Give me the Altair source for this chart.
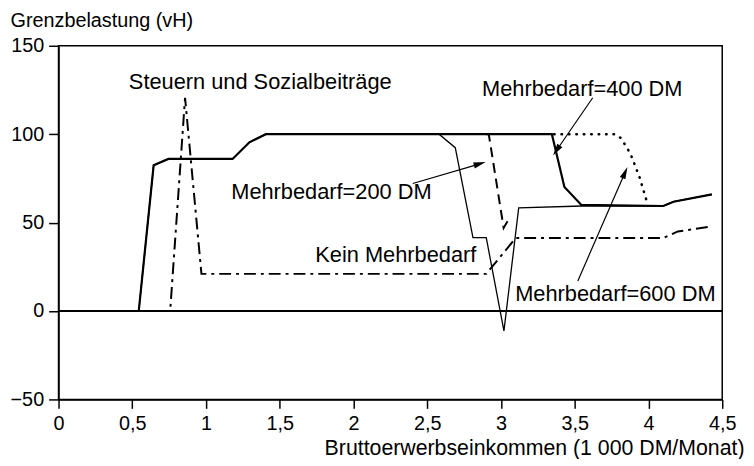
import math
import altair as alt
import pandas as pd

# ---- data ----
x_kein = [0, 0.544, 0.645, 0.745, 1.18, 1.294, 1.406, 2.58, 2.69, 2.81, 2.90, 3.02, 3.12, 3.55, 4.10, 4.17, 4.43]
y_kein = [0, 0, 82.4, 86, 86, 95.4, 100, 100, 92.4, 41.5, 41.5, -11.2, 58.3, 59.4, 59.4, 61.8, 66]

x_400 = [0, 0.544, 0.645, 0.745, 1.18, 1.294, 1.406, 3.345, 3.43, 3.545, 4.10, 4.17, 4.43]
y_400 = [0, 0, 82.4, 86, 86, 95.4, 100, 100, 70.2, 60, 59.4, 61.8, 66]

x_200 = [2.90, 2.917, 3.018, 3.05]
y_200 = [100, 100, 47, 51.5]

x_600 = [3.36, 3.77, 3.81, 3.85, 3.88, 3.91, 3.94, 3.985]
y_600 = [100, 100, 98, 93, 88.5, 82, 75.5, 63]

x_st = [0, 0.757, 0.858, 0.969, 2.90, 3.10, 4.10, 4.20, 4.43]
y_st = [0, 0, 120.6, 21, 21, 41.3, 41.3, 45, 47.8]

ann_text = ["Steuern und Sozialbeiträge", "Mehrbedarf=400 DM", "Mehrbedarf=200 DM",
            "Kein Mehrbedarf", "Mehrbedarf=600 DM"]
ann_x = [0.477, 2.872, 1.171, 1.741, 3.096]
ann_y = [125.3, 121.6, 63.1, 27.6, 5.8]

arr_x0 = [2.402, 3.622, 3.521]
arr_y0 = [72.1, 120.6, 17.0]
arr_x1 = [2.895, 3.353, 3.857]
arr_y1 = [84.2, 88.0, 81.4]

x_ticks = [0, 0.5, 1, 1.5, 2, 2.5, 3, 3.5, 4, 4.5]
y_ticks = [-50, 0, 50, 100, 150]

W, H = 670, 357
XD = [0, 4.5]
YD = [-50, 150]
FONT = "Liberation Sans"

xs = alt.Scale(domain=XD, nice=False, zero=False)
ys = alt.Scale(domain=YD, nice=False, zero=False)

def series_df(xv, yv):
    return pd.DataFrame({"x": xv, "y": yv, "o": list(range(len(xv)))})

x_enc = alt.X("x:Q", scale=xs,
              axis=alt.Axis(values=x_ticks, labelExpr="replace(toString(datum.value), '.', ',')",
                            title="Bruttoerwerbseinkommen (1 000 DM/Monat)",
                            titleAlign="right", titleAnchor="end", titleBaseline="alphabetic",
                            titleX=692, titleY=56, titleFontSize=21.5, tickSize=9, labelPadding=5,
                            labelFlush=False, labelOverlap=False))
y_enc = alt.Y("y:Q", scale=ys,
              axis=alt.Axis(values=y_ticks, title="Grenzbelastung (vH)", titleAngle=0,
                            titleAlign="left", titleBaseline="alphabetic",
                            titleX=-49, titleY=-19, tickSize=10, labelPadding=5,
                            titleFontSize=20, labelFlush=False))

def line(df, width, dash=None, cap="butt"):
    kw = dict(color="black", strokeWidth=width, strokeCap=cap)
    if dash:
        kw["strokeDash"] = dash
    return alt.Chart(df).mark_line(**kw).encode(x=x_enc, y=y_enc, order="o:Q")

zero = alt.Chart(pd.DataFrame({"y": [0]})).mark_rule(color="black", strokeWidth=1.8).encode(
    y=alt.Y("y:Q", scale=ys))

l_kein = line(series_df(x_kein, y_kein), 1.3)
l_400 = line(series_df(x_400, y_400), 2.2)
l_200 = line(series_df(x_200, y_200), 2.0, [10, 6])
l_600 = line(series_df(x_600, y_600), 2.6, [0.5, 7], cap="round")
l_st = line(series_df(x_st, y_st), 2.0, [12, 5, 3, 5])

ann_df = pd.DataFrame({"x": ann_x, "y": ann_y, "t": ann_text})
texts = alt.Chart(ann_df).mark_text(font=FONT, fontSize=22, align="left",
                                    baseline="alphabetic", color="black").encode(
    x=alt.X("x:Q", scale=xs), y=alt.Y("y:Q", scale=ys), text="t:N")

# arrows
kx = W / (XD[1] - XD[0])
ky = H / (YD[1] - YD[0])
rows = []
for a, b, c, d in zip(arr_x0, arr_y0, arr_x1, arr_y1):
    dxp = (c - a) * kx
    dyp = -(d - b) * ky
    n = math.hypot(dxp, dyp)
    ux, uy = dxp / n, dyp / n
    ang = math.degrees(math.atan2(dxp, -dyp)) % 360
    rows.append({"x0": a, "y0": b, "x1": c, "y1": d,
                 "hx": c - ux * 6 / kx, "hy": d + uy * 6 / ky, "ang": ang})
arr_df = pd.DataFrame(rows)

arr_lines = alt.Chart(arr_df).mark_rule(color="black", strokeWidth=1.2).encode(
    x=alt.X("x0:Q", scale=xs), y=alt.Y("y0:Q", scale=ys), x2="hx:Q", y2="hy:Q")
arr_heads = alt.Chart(arr_df).mark_point(shape="M0,-1L0.5,1L-0.5,1Z", filled=True,
                                         color="black", opacity=1, size=150).encode(
    x=alt.X("hx:Q", scale=xs), y=alt.Y("hy:Q", scale=ys),
    angle=alt.Angle("ang:Q", scale=None))

chart = alt.layer(zero, l_st, l_kein, l_400, l_200, l_600, arr_lines, arr_heads, texts).properties(
    width=W, height=H,
    autosize=alt.AutoSizeParams(type="none"),
    padding={"left": 51, "top": 36, "right": 24, "bottom": 58},
    background="white",
).configure_view(stroke="black", strokeWidth=1.5).configure_axis(
    grid=False, domainColor="black", domainWidth=1.5, tickColor="black", tickWidth=1.5,
    labelFont=FONT, labelFontSize=20, labelColor="black",
    titleFont=FONT, titleFontSize=22, titleFontWeight="normal", titleColor="black",
)

chart.save("out.html", embed_options={"renderer": "svg", "actions": False})
